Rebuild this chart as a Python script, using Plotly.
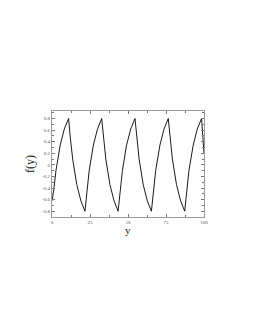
import plotly.graph_objects as go

y_pos = [0.0, 1.1, 2.6, 5.4, 8.1, 10.9,
         12.0, 13.6, 16.3, 19.0, 21.7,
         22.8, 24.45, 27.2, 29.95, 32.7,
         33.8, 35.4, 38.1, 40.8, 43.5,
         44.6, 46.3, 49.05, 51.8, 54.6,
         55.7, 57.3, 60.0, 62.7, 65.4,
         66.5, 68.2, 71.0, 73.7, 76.5,
         77.6, 79.2, 81.9, 84.6, 87.3,
         88.4, 90.1, 92.9, 95.6, 98.4,
         99.3, 100.0]
f_val = [-0.62, -0.45, -0.1, 0.34, 0.62, 0.8,
         0.48, 0.1, -0.34, -0.62, -0.8,
         -0.48, -0.1, 0.34, 0.62, 0.8,
         0.48, 0.1, -0.34, -0.62, -0.8,
         -0.48, -0.1, 0.34, 0.62, 0.8,
         0.48, 0.1, -0.34, -0.62, -0.8,
         -0.48, -0.1, 0.34, 0.62, 0.8,
         0.48, 0.1, -0.34, -0.62, -0.8,
         -0.48, -0.1, 0.34, 0.62, 0.8,
         0.45, 0.2]

x_ticks = [0, 25, 50, 75, 100]
x_labels = ["0", "25", "50", "75", "100"]
y_ticks = [-0.8, -0.6, -0.4, -0.2, 0, 0.2, 0.4, 0.6, 0.8]
y_labels = ["-0.8", "-0.6", "-0.4", "-0.2", "0", "0.2", "0.4", "0.6", "0.8"]

fig = go.Figure()
fig.add_trace(go.Scatter(x=y_pos, y=f_val, mode="lines",
                         line=dict(color="black", width=0.9), showlegend=False))

serif = "Liberation Serif, DejaVu Serif, serif"
axis_common = dict(showgrid=False, zeroline=False, showline=True, linecolor="#999",
                   linewidth=1, mirror="ticks", ticks="inside", ticklen=3,
                   tickcolor="#777", tickwidth=1, automargin=False,
                   tickfont=dict(family=serif, size=5, color="#555"))

fig.update_xaxes(range=[0, 100], tickvals=x_ticks, ticktext=x_labels,
                 minor=dict(dtick=12.5, tick0=0, ticks="inside", ticklen=2, tickcolor="#777"),
                 **axis_common)
fig.update_yaxes(range=[-0.9, 0.93], tickvals=y_ticks, ticktext=y_labels,
                 minor=dict(dtick=0.1, tick0=0, ticks="inside", ticklen=2, tickcolor="#777"),
                 title=dict(text="f(y)", font=dict(family=serif, size=12, color="#222"), standoff=4),
                 **axis_common)

fig.add_annotation(text="y", xref="paper", yref="paper", x=0.5, y=0, yshift=-5,
                   xanchor="center", yanchor="top", showarrow=False,
                   font=dict(family=serif, size=11, color="#222"))

fig.update_layout(width=247, height=322, paper_bgcolor="white", plot_bgcolor="white",
                  margin=dict(l=44, r=51, t=103, b=113))
fig.write_html("out.html")
